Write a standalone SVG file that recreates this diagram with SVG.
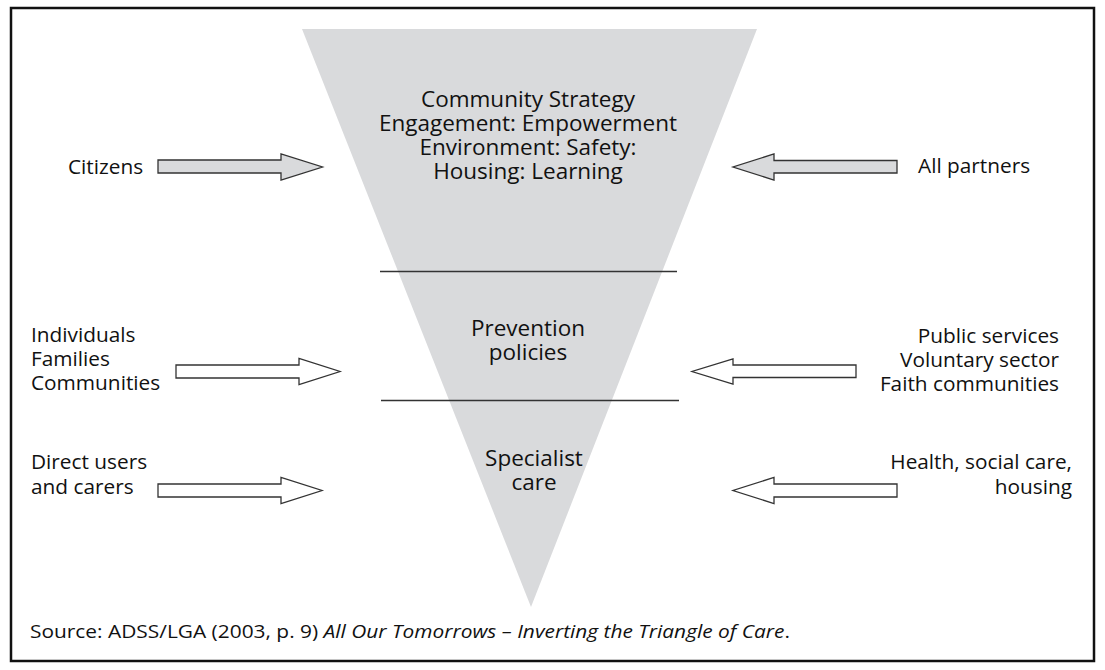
<svg xmlns="http://www.w3.org/2000/svg" width="1105" height="670" viewBox="0 0 1105 670">
<style>
text{font-family:"Open Sans","Noto Sans",sans-serif;font-size:20.8px;fill:#111}
.t{font-size:22.5px}
.c{text-anchor:middle}
.r{text-anchor:end}
.src{font-size:19px}
.ga{fill:#d9dadc;stroke:#333;stroke-width:1.3}
.wa{fill:#fff;stroke:#333;stroke-width:1.3}
.div{stroke:#333;stroke-width:1.3}
</style>
<rect x="0" y="0" width="1105" height="670" fill="#fff"/>
<rect x="11" y="8" width="1083" height="653" fill="none" stroke="#111" stroke-width="2.5"/>
<g id="triangle">
<polygon points="302,29 757,29 531,607" fill="#d9dadc"/>
<line class="div" x1="380" y1="271.5" x2="677" y2="271.5"/>
<line class="div" x1="381" y1="400.5" x2="679" y2="400.5"/>
</g>
<g id="community">
<text class="c t" x="528" y="107">Community Strategy</text>
<text class="c t" x="528" y="131">Engagement: Empowerment</text>
<text class="c t" x="528" y="155">Environment: Safety:</text>
<text class="c t" x="528" y="179">Housing: Learning</text>
</g>
<g id="prevention">
<text class="c t" x="528" y="336">Prevention</text>
<text class="c t" x="528" y="360">policies</text>
</g>
<g id="specialist">
<text class="c t" x="534" y="466">Specialist</text>
<text class="c t" x="534" y="490">care</text>
</g>
<g id="citizens"><text x="68" y="174">Citizens</text></g>
<g id="allpartners"><text x="918" y="173">All partners</text></g>
<g id="individuals">
<text x="31" y="342">Individuals</text>
<text x="31" y="366">Families</text>
<text x="31" y="390">Communities</text>
</g>
<g id="public">
<text class="r" x="1059" y="343">Public services</text>
<text class="r" x="1059" y="367">Voluntary sector</text>
<text class="r" x="1059" y="391">Faith communities</text>
</g>
<g id="direct">
<text x="31" y="469">Direct users</text>
<text x="31" y="494">and carers</text>
</g>
<g id="health">
<text class="r" x="1072" y="469">Health, social care,</text>
<text class="r" x="1072" y="494">housing</text>
</g>
<g id="connectors">
<polygon class="ga" points="158,160 281,160 281,154 322.5,167 281,180 281,173 158,173"/>
<polygon class="ga" points="897,160.5 774,160.5 774,154 733,167 774,180 774,173 897,173"/>
<polygon class="wa" points="176,365 299,365 299,358.5 340,371.5 299,384.5 299,378 176,378"/>
<polygon class="wa" points="856,365 733,365 733,359 692,371.5 733,384 733,377.5 856,377.5"/>
<polygon class="wa" points="158,484 281,484 281,477.5 322,490.5 281,503.5 281,497 158,497"/>
<polygon class="wa" points="897,484 774,484 774,477.5 733,490.5 774,503.5 774,497 897,497"/>
</g>
<g id="source">
<text class="src" x="30" y="638" textLength="760" lengthAdjust="spacingAndGlyphs">Source: ADSS/LGA (2003, p. 9) <tspan font-style="italic">All Our Tomorrows –  Inverting the Triangle of Care</tspan>.</text>
</g>
</svg>
